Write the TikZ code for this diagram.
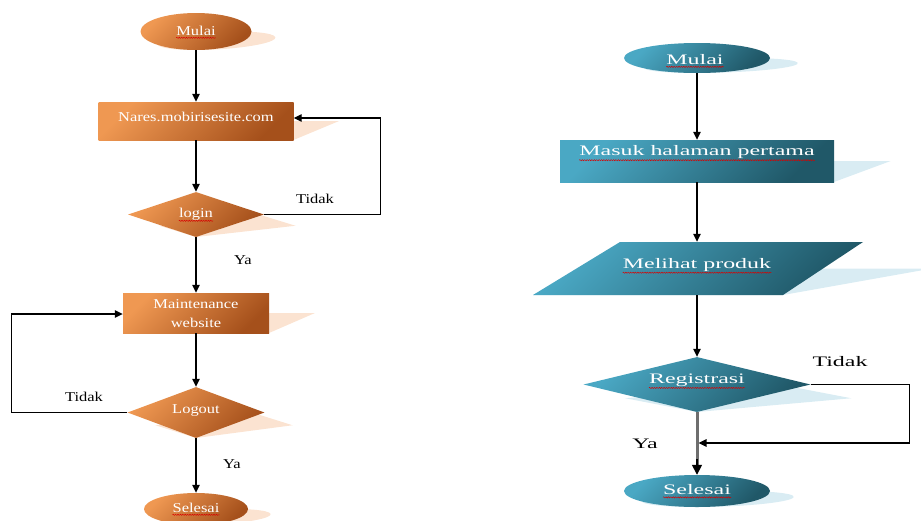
\documentclass[tikz,border=0pt]{standalone}
\usepackage{fontspec}
\setmainfont{Liberation Serif}
\newfontfamily\lfont[FakeStretch=1.22]{Liberation Serif}
\newfontfamily\rfont[FakeStretch=1.65]{Liberation Serif}
\usetikzlibrary{arrows.meta,shapes.geometric,decorations.pathmorphing}
\definecolor{orL}{HTML}{EF9852}
\definecolor{orD}{HTML}{A5501B}
\definecolor{tlL}{HTML}{4AA8C4}
\definecolor{tlD}{HTML}{205868}
\definecolor{orS}{HTML}{FBE3D1}
\definecolor{tlS}{HTML}{D9ECF3}
\definecolor{lineG}{HTML}{6E6E6E}
\begin{document}
\begin{tikzpicture}[x=1pt,y=-1pt,
  orshade/.style={top color=orL, bottom color=orD, shading angle=45, draw=none},
  tlshade/.style={top color=tlL, bottom color=tlD, shading angle=45, draw=none},
  ell/.style={ellipse, inner sep=0pt},
  box/.style={rectangle, inner sep=0pt},
  dia/.style={diamond, inner sep=0pt},
  ltxt/.style={inner sep=0pt, text=white, font=\lfont\fontsize{13.5}{18.5}\selectfont, align=center},
  rtxt/.style={inner sep=0pt, text=white, font=\rfont\fontsize{14.5}{18}\selectfont},
  llab/.style={inner sep=0pt, text=black, font=\lfont\fontsize{13.5}{16}\selectfont},
  rlab/.style={inner sep=0pt, text=black, font=\rfont\fontsize{14.5}{16}\selectfont},
  arr/.style={draw=black, line width=1.2pt, -{Triangle[length=8pt,width=7.5pt]}},
  sq/.style={draw=red!85!black, line width=0.45pt, decorate, decoration={snake, amplitude=0.6pt, segment length=2.4pt}}
]
\useasboundingbox (0,0) rectangle (921,520);

% ---------- shadows ----------
\begin{scope}[shift={(196,50)}, cm={1,0,1.1,0.5,(0,0)}]
  \fill[orS] (0,-18.5) ellipse (55.5 and 18.5);
\end{scope}
\begin{scope}[shift={(196,140)}, cm={1,0,1.2,0.5,(0,0)}]
  \fill[orS] (-97.5,0) rectangle (97.5,-38);
\end{scope}
\begin{scope}[shift={(196,237)}, cm={1,0,1.4,0.5,(0,0)}]
  \fill[orS] (-68,-22.5) -- (0,-45) -- (68,-22.5) -- (0,0) -- cycle;
\end{scope}
\begin{scope}[shift={(196,333)}, cm={1,0,1.15,0.5,(0,0)}]
  \fill[orS] (-73,0) rectangle (73,-40);
\end{scope}
\begin{scope}[shift={(196,438)}, cm={1,0,1.1,0.5,(0,0)}]
  \fill[orS] (-68.5,-25.5) -- (0,-51) -- (68.5,-25.5) -- (0,0) -- cycle;
\end{scope}
\begin{scope}[shift={(196,525)}, cm={1,0,1.2,0.5,(0,0)}]
  \fill[orS] (0,-16) ellipse (52 and 16);
\end{scope}

\begin{scope}[shift={(697,73)}, cm={1,0,1.6,0.5,(0,0)}]
  \fill[tlS] (0,-15) ellipse (73 and 15);
\end{scope}
\begin{scope}[shift={(697,182)}, cm={1,0,1.35,0.5,(0,0)}]
  \fill[tlS] (-137,0) rectangle (137,-42);
\end{scope}
\begin{scope}[shift={(698,295)}, cm={1,0,1.3,0.5,(0,0)}]
  \fill[tlS] (-165,0) -- (85,0) -- (165,-53) -- (-78,-53) -- cycle;
\end{scope}
\begin{scope}[shift={(697,412)}, cm={1,0,1.5,0.5,(0,0)}]
  \fill[tlS] (-113,-27.5) -- (0,-55) -- (113,-27.5) -- (0,0) -- cycle;
\end{scope}
\begin{scope}[shift={(697,507)}, cm={1,0,1.3,0.5,(0,0)}]
  \fill[tlS] (0,-16) ellipse (73 and 16);
\end{scope}

% ---------- left flowchart ----------
\node[ell, orshade, minimum width=111pt, minimum height=37pt] (L1) at (196,31.5) {};
\node[box, orshade, minimum width=195pt, minimum height=38pt] (L2) at (196,121) {};
\node[dia, orshade, minimum width=136pt, minimum height=45pt] (L3) at (196,214.5) {};
\node[box, orshade, minimum width=146pt, minimum height=40pt] (L4) at (196,313) {};
\node[dia, orshade, minimum width=137pt, minimum height=51pt] (L5) at (196,412.5) {};
\node[ell, orshade, minimum width=104pt, minimum height=32pt] (L6) at (196,509) {};

\node[ltxt] (tL1) at (196,31) {Mulai};
\node[ltxt] (tL2) at (196,116.5) {Nares.mobirisesite.com};
\node[ltxt] (tL3) at (196,214) {login};
\node[ltxt] (tL4) at (196,313.5) {Maintenance\\website};
\node[ltxt] (tL5) at (196,410.5) {Logout};
\node[ltxt] (tL6) at (196,508) {Selesai};

\draw[sq] ([yshift=-2.2pt]tL1.base west) -- ([yshift=-2.2pt]tL1.base east);
\draw[sq] ([yshift=-3.6pt]tL3.base west) -- ([yshift=-3.6pt]tL3.base east);
\draw[sq] ([yshift=-2.2pt]tL6.base west) -- ([yshift=-2.2pt]tL6.base east);

\draw[arr] (L1.south) -- (L2.north);
\draw[arr] (L2.south) -- (L3.north);
\draw[arr] (L3.south) -- (L4.north);
\draw[arr] (L4.south) -- (L5.north);
\draw[arr] (L5.south) -- (L6.north);
\draw[arr] (L3.east) -- ++(116,0) |- ([yshift=3pt]L2.east);
\draw[arr] (L5.west) -- ++(-116,0) |- ([yshift=-1pt]L4.west);

\node[llab] (lbT1) at (315,199) {Tidak};
\node[llab] (lbY1) at (243,260) {Ya};
\node[llab] (lbT2) at (84,397) {Tidak};
\node[llab] (lbY2) at (232,464) {Ya};

% ---------- right flowchart ----------
\node[ell, tlshade, minimum width=146pt, minimum height=30pt] (R1) at (697,58) {};
\node[box, tlshade, minimum width=274pt, minimum height=42pt] (R2) at (697,161) {};
\shade[tlshade] (533,295) -- (783,295) -- (863,242) -- (620,242) -- cycle;
\node[box, minimum width=200pt, minimum height=53pt] (R3) at (697,268.5) {};
\node[dia, tlshade, minimum width=227pt, minimum height=55pt] (R4) at (697,384.5) {};
\node[ell, tlshade, minimum width=146pt, minimum height=32pt] (R5) at (697,491) {};

\node[rtxt] (tR1) at (695,59.5) {Mulai};
\node[rtxt] (tR2) at (697,152.5) {Masuk halaman pertama};
\node[rtxt] (tR3) at (697,265) {Melihat produk};
\node[rtxt] (tR4) at (697,380.5) {Registrasi};
\node[rtxt] (tR5) at (697,490) {Selesai};

\draw[sq] ([yshift=-2.4pt]tR1.base west) -- ([yshift=-2.4pt]tR1.base east);
\draw[sq] ([yshift=-4.2pt]tR2.base west) -- ([yshift=-4.2pt]tR2.base east);
\draw[sq] ([yshift=-4.2pt]tR3.base west) -- ([yshift=-4.2pt]tR3.base east);
\draw[sq] ([yshift=-4.2pt]tR4.base west) -- ([yshift=-4.2pt]tR4.base east);
\draw[sq] ([yshift=-2.4pt]tR5.base west) -- ([yshift=-2.4pt]tR5.base east);

\draw[arr] (R1.south) -- (R2.north);
\draw[arr] (R2.south) -- (R3.north);
\draw[arr] (R3.south) -- (R4.north);
\draw[line width=3pt, draw=lineG] (R4.south) -- ([yshift=10pt]R5.north);
\draw[arr, line width=1.6pt, -{Triangle[length=10pt,width=10pt]}] ([yshift=16pt]R5.north) -- (R5.north);
\coordinate (J) at (698.5,443);
\draw[arr] (R4.east) -- ++(99,0) |- (J);

\node[rlab] (lbT3) at (840,362) {Tidak};
\node[rlab] (lbY3) at (645,444) {Ya};
\end{tikzpicture}
\end{document}
